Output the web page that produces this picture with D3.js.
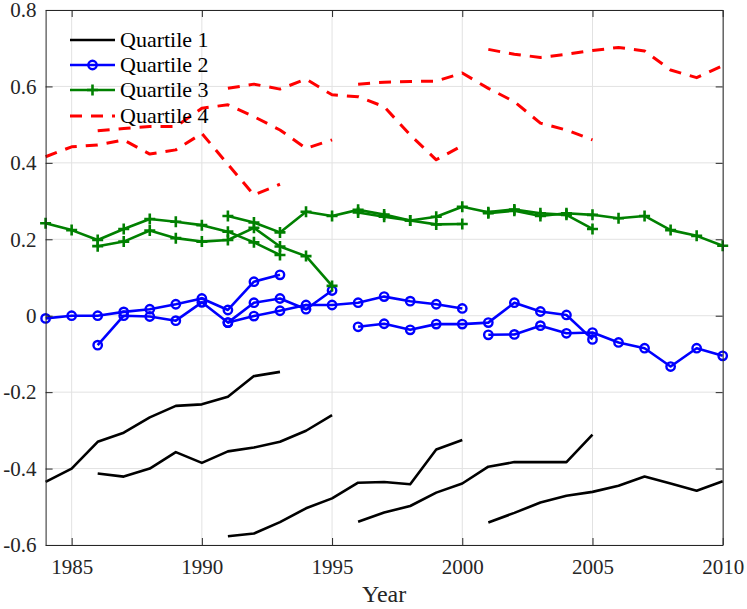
<!DOCTYPE html>
<html>
<head>
<meta charset="utf-8">
<script src="https://cdn.jsdelivr.net/npm/d3@7/dist/d3.min.js"></script>
<style>
  html, body { margin: 0; padding: 0; background: #fff; }
  svg { display: block; }
</style>
</head>
<body>
<svg id="chart" width="747" height="609"></svg>
<script>
// Start year of each 10-year window
const windowStarts = [1984, 1986, 1991, 1996, 2001];

// Quartile 1 (black solid)
const q1 = [
  [-0.435, -0.400, -0.330, -0.306, -0.266, -0.236, -0.232, -0.212, -0.158, -0.147],
  [-0.413, -0.421, -0.400, -0.357, -0.385, -0.355, -0.345, -0.330, -0.301, -0.260],
  [-0.577, -0.570, -0.540, -0.504, -0.478, -0.437, -0.435, -0.441, -0.350, -0.325],
  [-0.539, -0.515, -0.498, -0.463, -0.439, -0.395, -0.383, -0.383, -0.383, -0.311],
  [-0.541, -0.516, -0.489, -0.471, -0.461, -0.445, -0.421, -0.439, -0.458, -0.433]
];
// Quartile 2 (blue, circles)
const q2 = [
  [-0.007, 0.000, 0.000, 0.010, 0.017, 0.030, 0.045, 0.015, 0.089, 0.107],
  [-0.077, 0.000, -0.002, -0.013, 0.035, -0.018, 0.034, 0.045, 0.017, 0.066],
  [-0.018, -0.001, 0.013, 0.028, 0.028, 0.034, 0.050, 0.038, 0.030, 0.019],
  [-0.029, -0.021, -0.037, -0.022, -0.022, -0.018, 0.034, 0.011, 0.002, -0.062],
  [-0.050, -0.049, -0.026, -0.046, -0.044, -0.070, -0.085, -0.133, -0.085, -0.105]
];
// Quartile 3 (green, plus)
const q3 = [
  [0.242, 0.224, 0.198, 0.227, 0.253, 0.246, 0.237, 0.220, 0.192, 0.159],
  [0.182, 0.194, 0.223, 0.203, 0.194, 0.198, 0.230, 0.181, 0.156, 0.078],
  [0.261, 0.244, 0.218, 0.272, 0.261, 0.277, 0.265, 0.249, 0.239, 0.240],
  [0.270, 0.259, 0.249, 0.259, 0.285, 0.271, 0.278, 0.268, 0.264, 0.227],
  [0.268, 0.275, 0.261, 0.268, 0.264, 0.255, 0.261, 0.224, 0.209, 0.183]
];
// Quartile 4 (red dashed)
const q4 = [
  [0.416, 0.442, 0.447, 0.460, 0.423, 0.434, 0.477, 0.396, 0.316, 0.344],
  [0.484, 0.490, 0.495, 0.495, 0.543, 0.552, 0.521, 0.486, 0.438, 0.460],
  [0.595, 0.606, 0.593, 0.619, 0.578, 0.573, 0.547, 0.473, 0.408, 0.445],
  [0.606, 0.611, 0.613, 0.614, 0.635, 0.595, 0.560, 0.504, 0.486, 0.460],
  [0.697, 0.684, 0.676, 0.684, 0.694, 0.702, 0.693, 0.643, 0.623, 0.654]
];

const seriesNames = ["Quartile 1", "Quartile 2", "Quartile 3", "Quartile 4"];
const xTicks = [1985, 1990, 1995, 2000, 2005, 2010];
const yTicks = [-0.6, -0.4, -0.2, 0, 0.2, 0.4, 0.6, 0.8];
const xLabel = "Year";

const FONT = "'Liberation Serif', 'Times New Roman', serif";

const styles = [
  { color: "#000000", width: 2.6, dash: null, marker: null },
  { color: "#0000ff", width: 2.6, dash: null, marker: "circle" },
  { color: "#008000", width: 2.6, dash: null, marker: "plus" },
  { color: "#ff0000", width: 3, dash: "12,9", marker: null }
];

const svg = d3.select("#chart");
const W = 747, H = 609;
const margin = { left: 45.6, right: W - 722.7, top: 10, bottom: H - 545 };
const x = d3.scaleLinear().domain([1984, 2010]).range([margin.left, W - margin.right]);
const y = d3.scaleLinear().domain([-0.6, 0.8]).range([H - margin.bottom, margin.top]);

// grid
const grid = svg.append("g");
grid.selectAll(".gx").data(xTicks).join("line")
  .attr("x1", d => x(d)).attr("x2", d => x(d))
  .attr("y1", y.range()[0]).attr("y2", y.range()[1])
  .attr("stroke", "#e2e2e2").attr("stroke-width", 1);
grid.selectAll(".gy").data(yTicks).join("line")
  .attr("y1", d => y(d)).attr("y2", d => y(d))
  .attr("x1", x.range()[0]).attr("x2", x.range()[1])
  .attr("stroke", "#e2e2e2").attr("stroke-width", 1);

// data lines
const quartiles = [q1, q2, q3, q4];
const line = d3.line().x(d => x(d[0])).y(d => y(d[1]));
const plot = svg.append("g");
quartiles.forEach((segs, qi) => {
  const st = styles[qi];
  segs.forEach((vals, si) => {
    const pts = vals.map((v, i) => [windowStarts[si] + i, v]);
    const g = plot.append("g");
    g.append("path").datum(pts)
      .attr("d", line)
      .attr("fill", "none")
      .attr("stroke", st.color)
      .attr("stroke-width", st.width)
      .attr("stroke-linejoin", "round")
      .attr("stroke-dasharray", st.dash);
    if (st.marker === "circle") {
      g.selectAll("circle").data(pts).join("circle")
        .attr("cx", d => x(d[0])).attr("cy", d => y(d[1])).attr("r", 4.2)
        .attr("fill", "none").attr("stroke", st.color).attr("stroke-width", 2.4);
    } else if (st.marker === "plus") {
      g.selectAll("path.m").data(pts).join("path").attr("class", "m")
        .attr("d", d => { const cx = x(d[0]), cy = y(d[1]), s = 5.5;
          return `M${cx - s},${cy}H${cx + s}M${cx},${cy - s}V${cy + s}`; })
        .attr("stroke", st.color).attr("stroke-width", 2.6).attr("fill", "none");
    }
  });
});

// axes
const fmtY = d => d === 0 ? "0" : d.toFixed(1);
const axColor = "#262626";
const gB = svg.append("g").attr("transform", `translate(0,${y.range()[0]})`)
  .call(d3.axisBottom(x).tickValues(xTicks).tickSizeInner(-7).tickSizeOuter(0).tickPadding(14).tickFormat(d3.format("d")));
const gT = svg.append("g").attr("transform", `translate(0,${y.range()[1]})`)
  .call(d3.axisTop(x).tickValues(xTicks).tickSizeInner(-7).tickSizeOuter(0).tickFormat(""));
const gL = svg.append("g").attr("transform", `translate(${x.range()[0]},0)`)
  .call(d3.axisLeft(y).tickValues(yTicks).tickSizeInner(-7).tickSizeOuter(0).tickPadding(9).tickFormat(fmtY));
const gR = svg.append("g").attr("transform", `translate(${x.range()[1]},0)`)
  .call(d3.axisRight(y).tickValues(yTicks).tickSizeInner(-7).tickSizeOuter(0).tickFormat(""));
[gB, gT, gL, gR].forEach(g => {
  g.attr("font-family", null).style("font-family", FONT);
  g.selectAll("path.domain").attr("stroke", axColor).attr("stroke-width", 1);
  g.selectAll("line").attr("stroke", axColor).attr("stroke-width", 1);
  g.selectAll("text").style("font-family", FONT).style("font-size", "21px").attr("fill", axColor);
});

svg.append("text").attr("x", (x.range()[0] + x.range()[1]) / 2).attr("y", 602)
  .attr("text-anchor", "middle").style("font-family", FONT).style("font-size", "24px")
  .attr("fill", axColor).text(xLabel);

// legend
const leg = svg.append("g");
const legY = [40, 65, 90, 116];
seriesNames.forEach((name, i) => {
  const st = styles[i];
  const ly = legY[i];
  leg.append("line").attr("x1", 70).attr("x2", 115).attr("y1", ly).attr("y2", ly)
    .attr("stroke", st.color).attr("stroke-width", st.width).attr("stroke-dasharray", st.dash);
  if (st.marker === "circle") {
    leg.append("circle").attr("cx", 92.5).attr("cy", ly).attr("r", 4.2)
      .attr("fill", "none").attr("stroke", st.color).attr("stroke-width", 2.4);
  } else if (st.marker === "plus") {
    leg.append("path").attr("d", `M${92.5 - 5.5},${ly}H${92.5 + 5.5}M92.5,${ly - 5.5}V${ly + 5.5}`)
      .attr("stroke", st.color).attr("stroke-width", 2.6);
  }
  leg.append("text").attr("x", 120).attr("y", ly + 7).style("font-family", FONT)
    .style("font-size", "22px").attr("fill", "#000").text(name);
});
</script>
</body>
</html>
